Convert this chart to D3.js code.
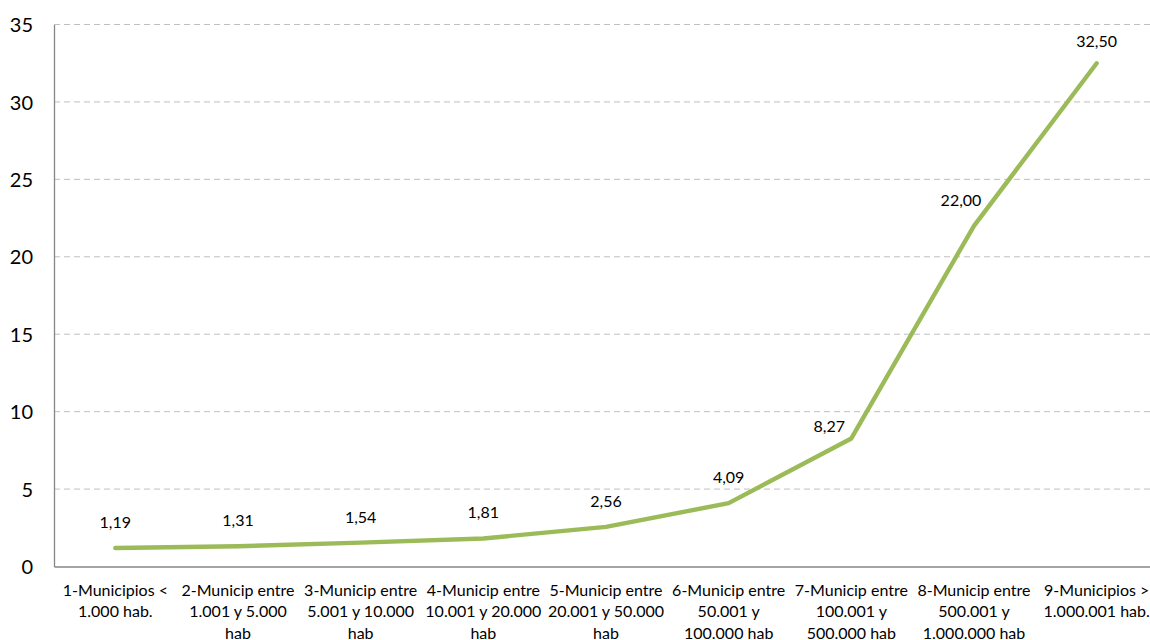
<!DOCTYPE html>
<html>
<head>
<meta charset="utf-8">
<script src="https://cdn.jsdelivr.net/npm/d3@7"></script>
<style>
  body { margin: 0; background: #fff; }
  text { font-family: Lato, "Open Sans", sans-serif; fill: #000; }
  .grid line { stroke: #bfbfbf; stroke-dasharray: 6,4; }
</style>
</head>
<body>
<div id="wrapper"></div>
<script>
// 1. Data

const categories = [
  "1-Municipios <\n1.000 hab.",
  "2-Municip entre\n1.001 y 5.000\nhab",
  "3-Municip entre\n5.001 y 10.000\nhab",
  "4-Municip entre\n10.001 y 20.000\nhab",
  "5-Municip entre\n20.001 y 50.000\nhab",
  "6-Municip entre\n50.001 y\n100.000 hab",
  "7-Municip entre\n100.001 y\n500.000 hab",
  "8-Municip entre\n500.001 y\n1.000.000 hab",
  "9-Municipios >\n1.000.001 hab.",
]
const values = [1.19, 1.31, 1.54, 1.81, 2.56, 4.09, 8.27, 22.00, 32.50]
const yTicks = [0, 5, 10, 15, 20, 25, 30, 35]

// 2. Dimensions

const dimensions = {
  width: 1150,
  height: 640,
  margin: { top: 24.5, right: -8, bottom: 73.5, left: 54 },
}
dimensions.boundedWidth = dimensions.width - dimensions.margin.left - dimensions.margin.right
dimensions.boundedHeight = dimensions.height - dimensions.margin.top - dimensions.margin.bottom

// 3. Canvas

const svg = d3.select("#wrapper").append("svg")
    .attr("width", dimensions.width)
    .attr("height", dimensions.height)

const bounds = svg.append("g")
    .attr("transform", `translate(${dimensions.margin.left}, ${dimensions.margin.top})`)

// 4. Scales

const xScale = d3.scaleBand()
    .domain(categories)
    .range([0, dimensions.boundedWidth])

const yScale = d3.scaleLinear()
    .domain([0, 35])
    .range([dimensions.boundedHeight, 0])

const xCenter = (d, i) => xScale(categories[i]) + xScale.bandwidth() / 2

// 5. Gridlines and axes

bounds.append("g")
    .attr("class", "grid")
  .selectAll("line")
  .data(yTicks.filter(t => t > 0))
  .join("line")
    .attr("x1", 0)
    .attr("x2", dimensions.boundedWidth)
    .attr("y1", d => yScale(d))
    .attr("y2", d => yScale(d))

const yAxis = bounds.append("g")
    .call(d3.axisLeft(yScale).tickValues(yTicks).tickSize(0).tickPadding(21))
yAxis.select(".domain").attr("stroke", "#868686").attr("stroke-width", 1.3)
yAxis.selectAll("text")
    .style("font-size", "20px")
    .attr("dy", "0.36em")

const xAxis = bounds.append("g")
    .attr("transform", `translate(0, ${dimensions.boundedHeight})`)
    .call(d3.axisBottom(xScale).tickSize(0).tickFormat(""))
xAxis.select(".domain").attr("stroke", "#868686").attr("stroke-width", 1.3)

xAxis.selectAll(".tick").each(function(d) {
  const lines = d.split("\n")
  d3.select(this).append("text")
      .attr("text-anchor", "middle")
      .style("font-size", "16px")
    .selectAll("tspan")
    .data(lines)
    .join("tspan")
      .attr("x", 0)
      .attr("y", (l, i) => 29 + i * 21.5)
      .text(l => l)
})

// 6. Line

const lineGenerator = d3.line()
    .x(xCenter)
    .y(d => yScale(d))

bounds.append("path")
    .datum(values)
    .attr("fill", "none")
    .attr("stroke", "#9bbb59")
    .attr("stroke-width", 4.4)
    .attr("stroke-linejoin", "round")
    .attr("stroke-linecap", "round")
    .attr("d", lineGenerator)

// 7. Data labels

const formatValue = d => d3.format(".2f")(d).replace(".", ",")

const slopeOut = i => {
  if (i >= values.length - 1) return 0
  const dx = xCenter(null, i + 1) - xCenter(null, i)
  return (yScale(values[i]) - yScale(values[i + 1])) / dx
}
const slopeIn = i => {
  if (i === 0) return 0
  const dx = xCenter(null, i) - xCenter(null, i - 1)
  return (yScale(values[i - 1]) - yScale(values[i])) / dx
}

bounds.selectAll(".data-label")
  .data(values)
  .join("text")
    .attr("class", "data-label")
    .attr("text-anchor", "middle")
    .style("font-size", "16px")
    .attr("x", (d, i) => xCenter(d, i) + (slopeOut(i) > 1 ? (slopeIn(i) < 1 ? -22 : -13) : 0))
    .attr("y", (d, i) => yScale(d) + (slopeOut(i) > 1 && slopeIn(i) < 1 ? -6 : i === values.length - 1 ? -16 : -20))
    .text(formatValue)
</script>
</body>
</html>
